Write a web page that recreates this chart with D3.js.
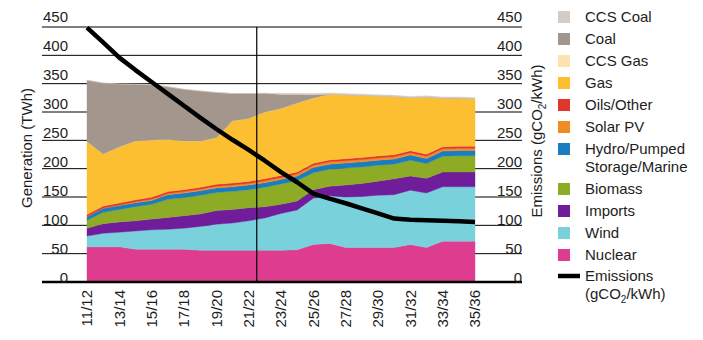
<!DOCTYPE html>
<html>
<head>
<meta charset="utf-8">
<script src="https://cdn.jsdelivr.net/npm/d3@7"></script>
<style>
  body { margin: 0; background: #fff; }
  text { font-family: Arial, "Liberation Sans", Helvetica, sans-serif; font-size: 15px; fill: #1d1d1b; }
</style>
</head>
<body>
<div id="chart"></div>
<script>
// data (TWh, except emissions in gCO2/kWh)
var years = ["11/12", "12/13", "13/14", "14/15", "15/16", "16/17", "17/18", "18/19", "19/20", "20/21", "21/22", "22/23",
    "23/24", "24/25", "25/26", "26/27", "27/28", "28/29", "29/30", "30/31", "31/32", "32/33", "33/34", "34/35", "35/36"];
var labelYears = ["11/12", "13/14", "15/16", "17/18", "19/20", "21/22", "23/24", "25/26", "27/28", "29/30", "31/32", "33/34", "35/36"];

var nuclear = [62, 62, 62, 58, 58, 58, 58, 56, 56, 56, 56, 56, 56, 57, 66, 68, 61, 61, 61, 61, 66, 61, 72, 72, 72];
var wind = [19, 24, 26, 32, 34, 35, 37, 42, 46, 48, 52, 57, 65, 70, 82, 84, 89, 90, 92, 93, 96, 96, 96, 96, 96];
var imports = [14, 17, 18, 18, 19, 21, 22, 22, 24, 24, 23, 20, 16, 16, 15, 17, 21, 23, 25, 28, 25, 26, 26, 26, 26];
var biomass = [14, 20, 22, 25, 26, 32, 32, 33, 32, 32, 32, 34, 36, 36, 30, 30, 30, 29, 28, 26, 28, 26, 28, 29, 29];
var hydro = [6, 7, 7, 7, 7, 8, 8, 8, 8, 8, 8, 8, 8, 8, 9, 9, 9, 9, 9, 9, 9, 9, 9, 9, 9];
var solar = [0.5, 0.5, 1, 1.5, 2, 2, 2.5, 2.5, 3, 3, 3, 3.5, 3.5, 3.5, 4, 4, 4, 4, 4, 4, 4, 4, 4, 4, 4];
var oils = [3.5, 3.5, 3.5, 3.5, 3.5, 3.5, 3.5, 3.5, 3.5, 3.5, 3.5, 3.5, 3.5, 3.5, 3.5, 3.5, 3.5, 3.5, 3.5, 3.5, 3.5, 3.5, 3.5, 3.5, 3.5];
var gas = [129, 92, 99, 104, 101, 92, 86, 82, 82, 110, 111, 118, 118, 122, 115, 116, 113, 110, 106, 103, 94, 101, 86, 85, 84];
var ccsGas = [0, 0, 0, 0, 0, 0, 0, 0, 0, 0, 0, 0, 0, 0, 0, 0, 0, 0, 0, 0, 0, 0, 0, 0, 0];
var coal = [108, 125, 111, 100, 98, 93, 91, 88, 80, 48, 44, 33, 25, 15, 6, 0, 0, 0, 0, 0, 0, 0, 0, 0, 0];
var ccsCoal = [0, 0, 0, 0, 0, 0, 0, 0, 0, 0, 0, 0, 2, 2, 2, 2, 2, 2, 2, 2, 2, 2, 2, 2, 2];
var emissions = [449, 423, 396, 374, 353, 332, 311, 290, 270, 251, 233, 214, 194, 176, 156, 147, 139, 130, 121, 112, 110, 109, 108, 107, 106];

var ticks = [0, 50, 100, 150, 200, 250, 300, 350, 400, 450];

// stack order bottom -> top, legend reads top -> bottom
var keys = ["nuclear", "wind", "imports", "biomass", "hydro", "solar", "oils", "gas", "ccsGas", "coal", "ccsCoal"];
var names = {
    ccsCoal: "CCS Coal", coal: "Coal", ccsGas: "CCS Gas", gas: "Gas", oils: "Oils/Other", solar: "Solar PV",
    hydro: "Hydro/Pumped|Storage/Marine", biomass: "Biomass", imports: "Imports", wind: "Wind", nuclear: "Nuclear"
};
var colors = {
    ccsCoal: "#d4cdc7", coal: "#a2968d", ccsGas: "#fde3b2", gas: "#fbbf31", oils: "#e1372a", solar: "#f38b25",
    hydro: "#1a7dbf", biomass: "#8dab25", imports: "#6f1d9b", wind: "#79d1dc", nuclear: "#de3d8f"
};
var series = {
    nuclear: nuclear, wind: wind, imports: imports, biomass: biomass, hydro: hydro, solar: solar,
    oils: oils, gas: gas, ccsGas: ccsGas, coal: coal, ccsCoal: ccsCoal
};

var table = years.map(function (yr, i) {
    var row = { year: yr };
    keys.forEach(function (k) { row[k] = series[k][i]; });
    return row;
});

var width = 703, height = 340;

var svg = d3.select("#chart")
    .append("svg")
    .attr("width", width)
    .attr("height", height);

var x = d3.scalePoint().domain(years).range([87, 475]);
var y = d3.scaleLinear().domain([0, 450]).range([282, 27]);
// tick labels sit a little above their lines, spread slightly wider
var yLabel = d3.scaleLinear().domain([0, 450]).range([278, 17]);

// gridlines behind everything
svg.append("g")
    .selectAll("line")
    .data(ticks.filter(function (d) { return d > 0; }))
    .enter()
    .append("line")
    .attr("x1", 42)
    .attr("x2", 522)
    .attr("y1", function (d) { return y(d); })
    .attr("y2", function (d) { return y(d); })
    .attr("stroke", "#000")
    .attr("stroke-width", 1);

var stacked = d3.stack().keys(keys)(table);

var area = d3.area()
    .x(function (d) { return x(d.data.year); })
    .y0(function (d) { return y(d[0]); })
    .y1(function (d) { return y(d[1]); });

svg.append("g")
    .selectAll("path")
    .data(stacked)
    .enter()
    .append("path")
    .attr("d", area)
    .attr("fill", function (d) { return colors[d.key]; })
    .attr("stroke", function (d) { return colors[d.key]; })
    .attr("stroke-width", 0.4);

// divider between outturn and projection
var xDiv = (x(years[10]) + x(years[11])) / 2;
svg.append("line")
    .attr("x1", xDiv)
    .attr("x2", xDiv)
    .attr("y1", y(450))
    .attr("y2", y(0))
    .attr("stroke", "#000")
    .attr("stroke-width", 1.2);

// bottom axis line
svg.append("line")
    .attr("x1", 42)
    .attr("x2", 522)
    .attr("y1", y(0))
    .attr("y2", y(0))
    .attr("stroke", "#000")
    .attr("stroke-width", 2.5);

// emissions line
var line = d3.line()
    .x(function (d, i) { return x(years[i]); })
    .y(function (d) { return y(d); });

svg.append("path")
    .datum(emissions)
    .attr("d", line)
    .attr("fill", "none")
    .attr("stroke", "#000")
    .attr("stroke-width", 4.5)
    .attr("stroke-linejoin", "round");

// tick labels, both sides
svg.append("g")
    .selectAll("text")
    .data(ticks)
    .enter()
    .append("text")
    .attr("x", 68)
    .attr("y", function (d) { return yLabel(d); })
    .attr("dy", "0.35em")
    .attr("text-anchor", "end")
    .text(function (d) { return d; });

svg.append("g")
    .selectAll("text")
    .data(ticks)
    .enter()
    .append("text")
    .attr("x", 522)
    .attr("y", function (d) { return yLabel(d); })
    .attr("dy", "0.35em")
    .attr("text-anchor", "end")
    .text(function (d) { return d; });

// x labels, rotated
svg.append("g")
    .selectAll("text")
    .data(labelYears)
    .enter()
    .append("text")
    .attr("transform", function (d) { return "translate(" + x(d) + ",290) rotate(-90)"; })
    .attr("dy", "0.35em")
    .attr("text-anchor", "end")
    .text(function (d) { return d; });

// axis titles
svg.append("text")
    .attr("transform", "translate(32,148) rotate(-90)")
    .attr("text-anchor", "middle")
    .text("Generation (TWh)");

var rt = svg.append("text")
    .attr("transform", "translate(542,141) rotate(-90)")
    .attr("text-anchor", "middle");
rt.append("tspan").text("Emissions (gCO");
rt.append("tspan").attr("dy", 4).style("font-size", "10px").text("2");
rt.append("tspan").attr("dy", -4).text("/kWh)");

// legend
var legendKeys = keys.slice().reverse();
var ly = 17;
legendKeys.forEach(function (k) {
    svg.append("rect")
        .attr("x", 558)
        .attr("y", ly - 6)
        .attr("width", 12)
        .attr("height", 12)
        .attr("fill", colors[k]);
    var parts = names[k].split("|");
    parts.forEach(function (p, j) {
        svg.append("text")
            .attr("x", 585)
            .attr("y", ly + j * 18)
            .attr("dy", "0.35em")
            .text(p);
    });
    ly += 22 + (parts.length - 1) * 18;
});

svg.append("line")
    .attr("x1", 558)
    .attr("x2", 580)
    .attr("y1", ly - 1)
    .attr("y2", ly - 1)
    .attr("stroke", "#000")
    .attr("stroke-width", 4.5);

svg.append("text")
    .attr("x", 585)
    .attr("y", ly - 1)
    .attr("dy", "0.35em")
    .text("Emissions");

var lt = svg.append("text")
    .attr("x", 585)
    .attr("y", ly + 17)
    .attr("dy", "0.35em");
lt.append("tspan").text("(gCO");
lt.append("tspan").attr("dy", 4).style("font-size", "10px").text("2");
lt.append("tspan").attr("dy", -4).text("/kWh)");
</script>
</body>
</html>
